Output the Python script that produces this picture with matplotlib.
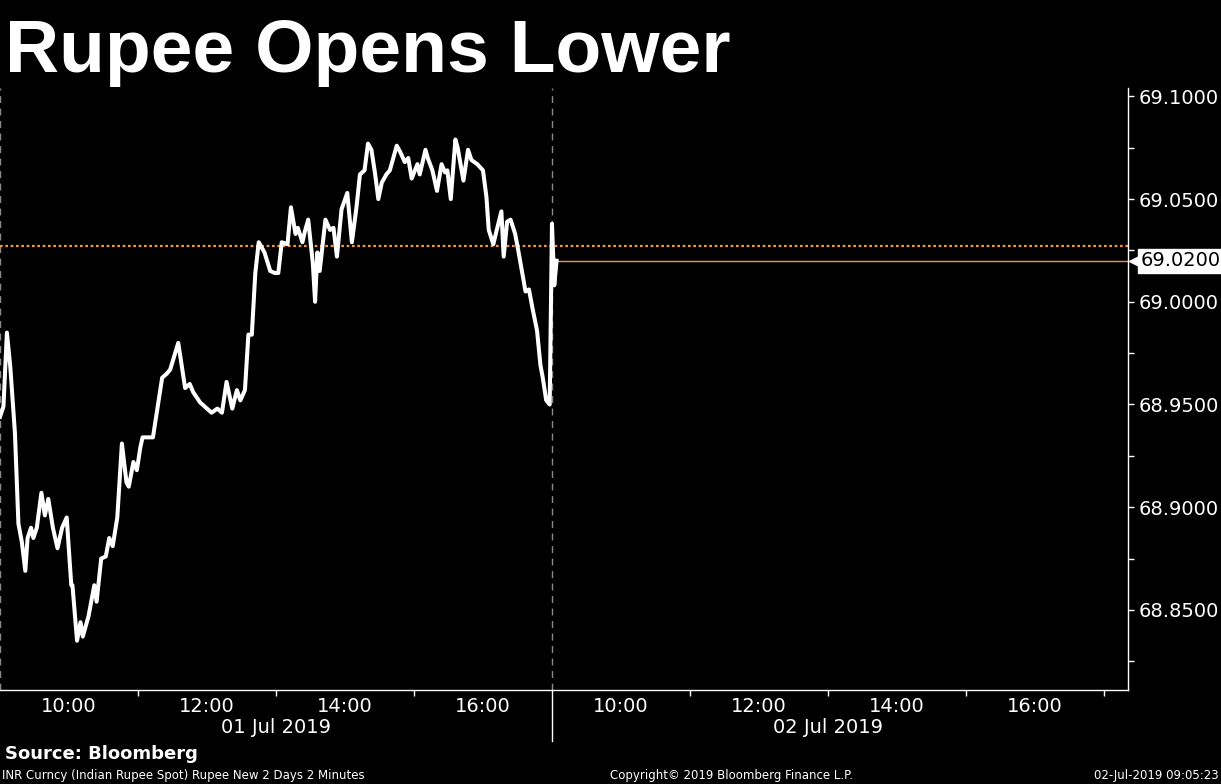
import matplotlib
matplotlib.use("Agg")
import matplotlib.pyplot as plt
import matplotlib.transforms as mtransforms
import numpy as np

# INR spot, 2 minute bars
day1_times = ["09:00", "09:03", "09:06", "09:09", "09:13", "09:16", "09:19", "09:22", "09:24", "09:27",
              "09:29", "09:32", "09:36", "09:39", "09:42", "09:46", "09:50", "09:54", "09:58", "10:02",
              "10:03", "10:07", "10:10", "10:12", "10:17", "10:22", "10:24", "10:28", "10:32", "10:35",
              "10:38", "10:42", "10:46", "10:50", "10:52", "10:56", "10:59", "11:02", "11:04", "11:13",
              "11:21", "11:25", "11:28", "11:35", "11:41", "11:45", "11:48", "11:54", "12:00", "12:04",
              "12:09", "12:13", "12:17", "12:22", "12:26", "12:29", "12:33", "12:36", "12:39", "12:42",
              "12:45", "12:50", "12:55", "12:59", "13:02", "13:05", "13:10", "13:13", "13:17", "13:19",
              "13:23", "13:25", "13:28", "13:32", "13:34", "13:36", "13:38", "13:43", "13:47", "13:50",
              "13:53", "13:57", "14:02", "14:06", "14:10", "14:13", "14:17", "14:20", "14:23", "14:26",
              "14:29", "14:32", "14:36", "14:39", "14:42", "14:45", "14:48", "14:52", "14:55", "14:58",
              "15:03", "15:05", "15:10", "15:12", "15:16", "15:20", "15:24", "15:27", "15:29", "15:32",
              "15:36", "15:38", "15:43", "15:47", "15:50", "15:55", "16:00", "16:03", "16:05", "16:09",
              "16:12", "16:16", "16:18", "16:21", "16:24", "16:28", "16:31", "16:37", "16:40", "16:43",
              "16:47", "16:50", "16:52", "16:55", "16:58"]
day1_prices = [68.944, 68.949, 68.985, 68.968, 68.936, 68.892, 68.883, 68.869, 68.885, 68.890,
               68.885, 68.890, 68.907, 68.896, 68.904, 68.890, 68.880, 68.890, 68.895, 68.862,
               68.862, 68.835, 68.844, 68.837, 68.847, 68.862, 68.854, 68.875, 68.876, 68.885,
               68.881, 68.895, 68.931, 68.912, 68.910, 68.922, 68.918, 68.929, 68.934, 68.934,
               68.963, 68.965, 68.967, 68.980, 68.958, 68.960, 68.956, 68.951, 68.948, 68.946,
               68.948, 68.946, 68.961, 68.948, 68.957, 68.952, 68.957, 68.984, 68.984, 69.014,
               69.029, 69.024, 69.015, 69.014, 69.014, 69.029, 69.028, 69.046, 69.033, 69.036,
               69.029, 69.034, 69.040, 69.019, 69.000, 69.024, 69.015, 69.040, 69.035, 69.036,
               69.022, 69.045, 69.053, 69.029, 69.046, 69.062, 69.064, 69.077, 69.074, 69.063,
               69.050, 69.058, 69.062, 69.064, 69.070, 69.076, 69.073, 69.068, 69.070, 69.060,
               69.067, 69.062, 69.074, 69.070, 69.064, 69.054, 69.067, 69.063, 69.064, 69.050,
               69.079, 69.075, 69.059, 69.074, 69.069, 69.067, 69.064, 69.051, 69.035, 69.028,
               69.035, 69.044, 69.022, 69.039, 69.040, 69.033, 69.024, 69.005, 69.006, 68.997,
               68.986, 68.969, 68.963, 68.952, 68.950]
day2_times = ["09:00", "09:02", "09:04"]
day2_prices = [69.038, 69.008, 69.020]

prev_close = 69.027
last_price = 69.020

hour_labels = ["10:00", "12:00", "14:00", "16:00"]
day_labels = ["01 Jul 2019", "02 Jul 2019"]


def session_x(day, hhmm):
    # 9:00-17:00 session, days placed side by side (hours)
    h, m = hhmm.split(":")
    return day * 8 + int(h) - 9 + int(m) / 60


x1 = [session_x(0, t) for t in day1_times]
x2 = [session_x(1, t) for t in day2_times]
xs = x1 + x2
ys = day1_prices + day2_prices

plt.rcParams['font.family'] = ['DejaVu Sans']
fig = plt.figure(figsize=(12.21, 7.84), dpi=100, facecolor='black')
ax = fig.add_axes([0.0, 0.1199, 0.9242, 0.7679], facecolor='black')

xmax = 16.355
ax.set_xlim(0, xmax)
ax.set_ylim(68.811, 69.1041)

# day separators
for d in [0, 8]:
    ax.axvline(d, color='#8a8a8a', lw=1, ls=(0, (5, 4)), zorder=1)

ax.axhline(prev_close, color='#f5962f', lw=1.6, ls=(0, (1.2, 1.2)), zorder=2)
ax.plot([xs[-1], xmax], [last_price, last_price], color='#f5962f', lw=1, zorder=2)
ax.plot(xs, ys, color='white', lw=2.9, solid_joinstyle='round', zorder=3)

# axes styling
for s in ['top', 'left']:
    ax.spines[s].set_visible(False)
ax.spines['right'].set_color('white')
ax.spines['bottom'].set_color('white')
ax.spines['right'].set_linewidth(1)
ax.spines['bottom'].set_linewidth(1)

ax.yaxis.tick_right()
ax.set_yticks([68.85, 68.90, 68.95, 69.00, 69.05, 69.10])
ax.set_yticks([68.825, 68.875, 68.925, 68.975, 69.025, 69.075], minor=True)
ax.yaxis.set_major_formatter(matplotlib.ticker.FormatStrFormatter('%.4f'))
ax.tick_params(axis='y', which='both', colors='white', labelsize=14, length=4, width=1, pad=3)
for lbl in ax.get_yticklabels():
    lbl.set_verticalalignment('center_baseline')

# x: unlabeled marks on odd hours, labels on even hours
ax.set_xticks([2, 4, 6, 10, 12, 14, 16])
ax.set_xticklabels([])
label_pos = [session_x(d, t) for d in [0, 1] for t in hour_labels]
ax.set_xticks(label_pos, minor=True)
ax.set_xticklabels(hour_labels * 2, minor=True)
ax.tick_params(axis='x', which='major', colors='white', length=4, width=1)
ax.tick_params(axis='x', which='minor', colors='white', length=0, labelsize=14, pad=5)

trans = mtransforms.blended_transform_factory(ax.transData, ax.transAxes)
ax.plot([8, 8], [0, -0.085], color='white', lw=1, transform=trans, clip_on=False)
for d, lab in enumerate(day_labels):
    ax.text(d * 8 + 4, -0.062, lab, transform=trans, color='white', fontsize=14,
            ha='center', va='center')

# last price tag
tag_trans = mtransforms.blended_transform_factory(ax.transAxes, ax.transData)
ax.plot([1.0], [last_price], marker='<', ms=9, color='white', mec='white', clip_on=False,
        transform=mtransforms.offset_copy(tag_trans, fig, x=7, units='dots'))
ax.text(1.0, last_price, f"{last_price:.4f}", color='black', fontsize=14, va='center', ha='left',
        transform=mtransforms.offset_copy(tag_trans, fig, x=12, units='dots'),
        bbox=dict(boxstyle='square,pad=0.12', fc='white', ec='white'))

fig.text(5 / 1221, 1 - 72 / 784, "Rupee Opens Lower", color='white', fontsize=54,
         fontweight='bold', family='Liberation Sans', ha='left', va='baseline')
fig.text(5 / 1221, 1 - 754 / 784, "Source: Bloomberg", color='white', fontsize=13,
         fontweight='bold', ha='left', va='center')
fig.text(2 / 1221, 1 - 775 / 784, "INR Curncy (Indian Rupee Spot) Rupee New 2 Days 2 Minutes",
         color='white', fontsize=8.5, ha='left', va='center')
fig.text(610 / 1221, 1 - 775 / 784, "Copyright\u00a9 2019 Bloomberg Finance L.P.",
         color='white', fontsize=8.5, ha='left', va='center')
fig.text(1219 / 1221, 1 - 775 / 784, "02-Jul-2019 09:05:23",
         color='white', fontsize=8.5, ha='right', va='center')

fig.savefig("out.png", dpi=100, facecolor='black')
